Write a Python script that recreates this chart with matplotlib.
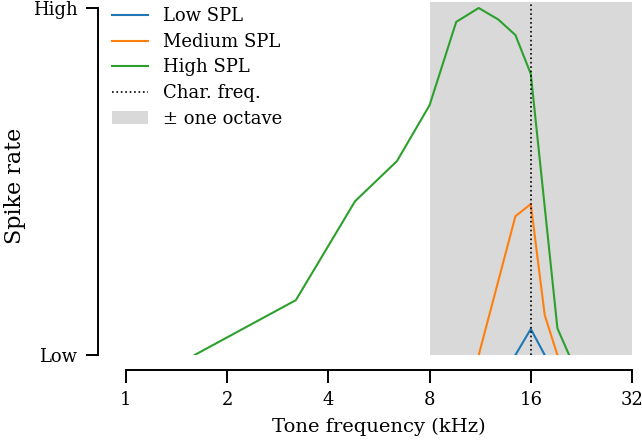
# tuning curves of a neuron at three sound levels

import numpy as np
import matplotlib
matplotlib.use('Agg')
import matplotlib.pyplot as plt

plt.rcParams['font.family'] = 'DejaVu Serif'
plt.rcParams['font.size'] = 13

# data (kHz, normalised spike rate)
low_freq = [14.4, 16.0, 17.6]
low_rate = [0.0, 0.075, 0.0]

med_freq = [11.2, 14.4, 16.0, 17.6, 19.2]
med_rate = [0.0, 0.40, 0.435, 0.115, 0.0]

high_freq = [1.6, 3.2, 4.8, 6.4, 8.0, 9.6, 11.2, 12.8, 14.4, 16.0, 19.2, 20.8]
high_rate = [0.0, 0.158, 0.443, 0.559, 0.72, 0.96, 1.0, 0.967, 0.922, 0.81, 0.077, 0.0]

char_freq = 16.0
x_ticks = [1, 2, 4, 8, 16, 32]

fig = plt.figure(figsize=(6.42, 4.41), dpi=100)
ax = fig.add_axes([126 / 642, 1 - 355 / 441, 506 / 642, 353 / 441])

# shaded band of one octave either side of the characteristic frequency
ax.axvspan(char_freq / 2, char_freq * 2, color='#d9d9d9', lw=0, label='± one octave')

ax.plot(low_freq, low_rate, color='tab:blue', lw=1.5, label='Low SPL')
ax.plot(med_freq, med_rate, color='tab:orange', lw=1.5, label='Medium SPL')
ax.plot(high_freq, high_rate, color='tab:green', lw=1.5, label='High SPL')
ax.axvline(char_freq, color='black', ls=':', lw=1.2, label='Char. freq.')

ax.set_xscale('log', base=2)
ax.set_xlim(1, 32)
ax.set_xticks(x_ticks)
ax.set_xticklabels([str(t) for t in x_ticks])
ax.minorticks_off()
ax.set_ylim(0, 353 / 347)
ax.set_yticks([0, max(high_rate)])
ax.set_yticklabels(['Low', 'High'])

# despined look with offset axes
for side in ['top', 'right']:
    ax.spines[side].set_visible(False)
ax.spines['left'].set_position(('outward', 20))
ax.spines['bottom'].set_position(('outward', 11))
ax.spines['left'].set_bounds(0, max(high_rate))
ax.spines['left'].set_linewidth(1.4)
ax.spines['bottom'].set_linewidth(1.4)
ax.tick_params(length=9, width=1.4, labelsize=13, pad=6)

ax.set_xlabel('Tone frequency (kHz)', fontsize=14, labelpad=6)
ax.set_ylabel('Spike rate', fontsize=16)
ax.yaxis.set_label_coords(-0.198, 0.479)

handles, labels = ax.get_legend_handles_labels()
order = [1, 2, 3, 4, 0]
ax.legend([handles[i] for i in order], [labels[i] for i in order],
          frameon=False, loc='upper left', bbox_to_anchor=(96 / 642, 1 + 9 / 441),
          bbox_transform=fig.transFigure, fontsize=13, labelspacing=0.42)

fig.savefig('out.png', dpi=100)
